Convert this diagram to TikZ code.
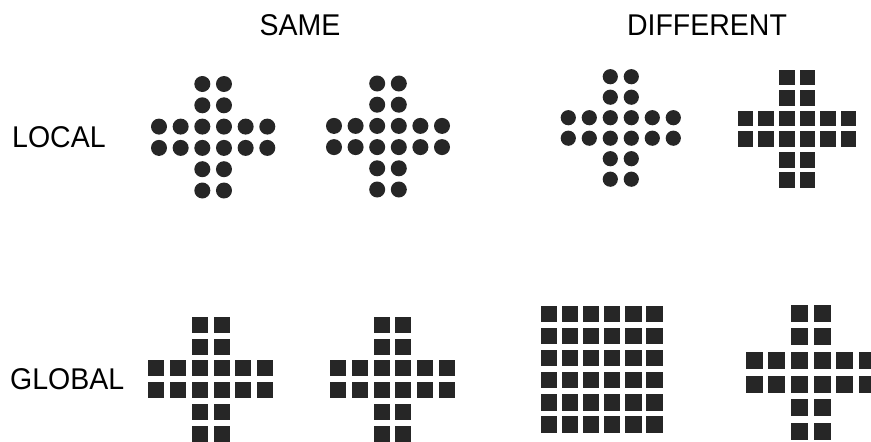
\documentclass[tikz,border=0pt]{standalone}
\usepackage{fontspec}
\usepackage{graphicx}
\setmainfont{Liberation Sans}
\definecolor{ink}{RGB}{38,38,38}
\def\crosscells{2/0,3/0,2/1,3/1,0/2,1/2,2/2,3/2,4/2,5/2,0/3,1/3,2/3,3/3,4/3,5/3,2/4,3/4,2/5,3/5}
\def\fullcells{0/0,1/0,2/0,3/0,4/0,5/0,0/1,1/1,2/1,3/1,4/1,5/1,0/2,1/2,2/2,3/2,4/2,5/2,0/3,1/3,2/3,3/3,4/3,5/3,0/4,1/4,2/4,3/4,4/4,5/4,0/5,1/5,2/5,3/5,4/5,5/5}
% #1 cells, #2 x0, #3 dx, #4 y0, #5 dy, #6 radius
\newcommand{\dotfig}[6]{%
  \foreach \c/\r in #1 {\fill[ink] ({#2+\c*#3},{#4+\r*#5}) circle[radius=#6];}}
% #6 half side
\newcommand{\sqfig}[6]{%
  \foreach \c/\r in #1 {\fill[ink] ({#2+\c*#3-#6},{#4+\r*#5-#6}) rectangle ++({2*#6},{2*#6});}}
\newcommand{\narrow}[1]{\scalebox{0.95}[1]{#1}}
\tikzset{lbl/.style={font=\fontsize{30}{36}\selectfont, inner sep=0pt, text=black}}
\begin{document}
\begin{tikzpicture}[x=1pt,y=-1pt]
\useasboundingbox (0,0) rectangle (871,442);
\clip (0,0) rectangle (871,442);
\fill[white] (0,0) rectangle (871,442);
\node[lbl, anchor=base] (same) at (300,35) {\narrow{SAME}};
\node[lbl, anchor=base] (diff) at (707,35) {\narrow{DIFFERENT}};
\node[lbl, anchor=base west] (local) at (12,147.3) {\narrow{LOCAL}};
\node[lbl, anchor=base west] (global) at (10,389.5) {\narrow{GLOBAL}};
% local row
\dotfig{\crosscells}{159}{21.66}{84}{21.3}{8}
\dotfig{\crosscells}{334}{21.6}{83.5}{21.2}{8}
\dotfig{\crosscells}{568.3}{21}{76.7}{20.5}{7.6}
\sqfig{\crosscells}{745.5}{20.6}{77.5}{20.55}{7.8}
% global row
\sqfig{\crosscells}{156.2}{21.8}{324.7}{21.8}{8}
\sqfig{\crosscells}{338}{21.8}{324.7}{21.8}{8}
\sqfig{\fullcells}{549}{21.06}{314}{22.06}{8.3}
\sqfig{\crosscells}{754}{22.74}{313}{23.7}{8.5}
\end{tikzpicture}
\end{document}
